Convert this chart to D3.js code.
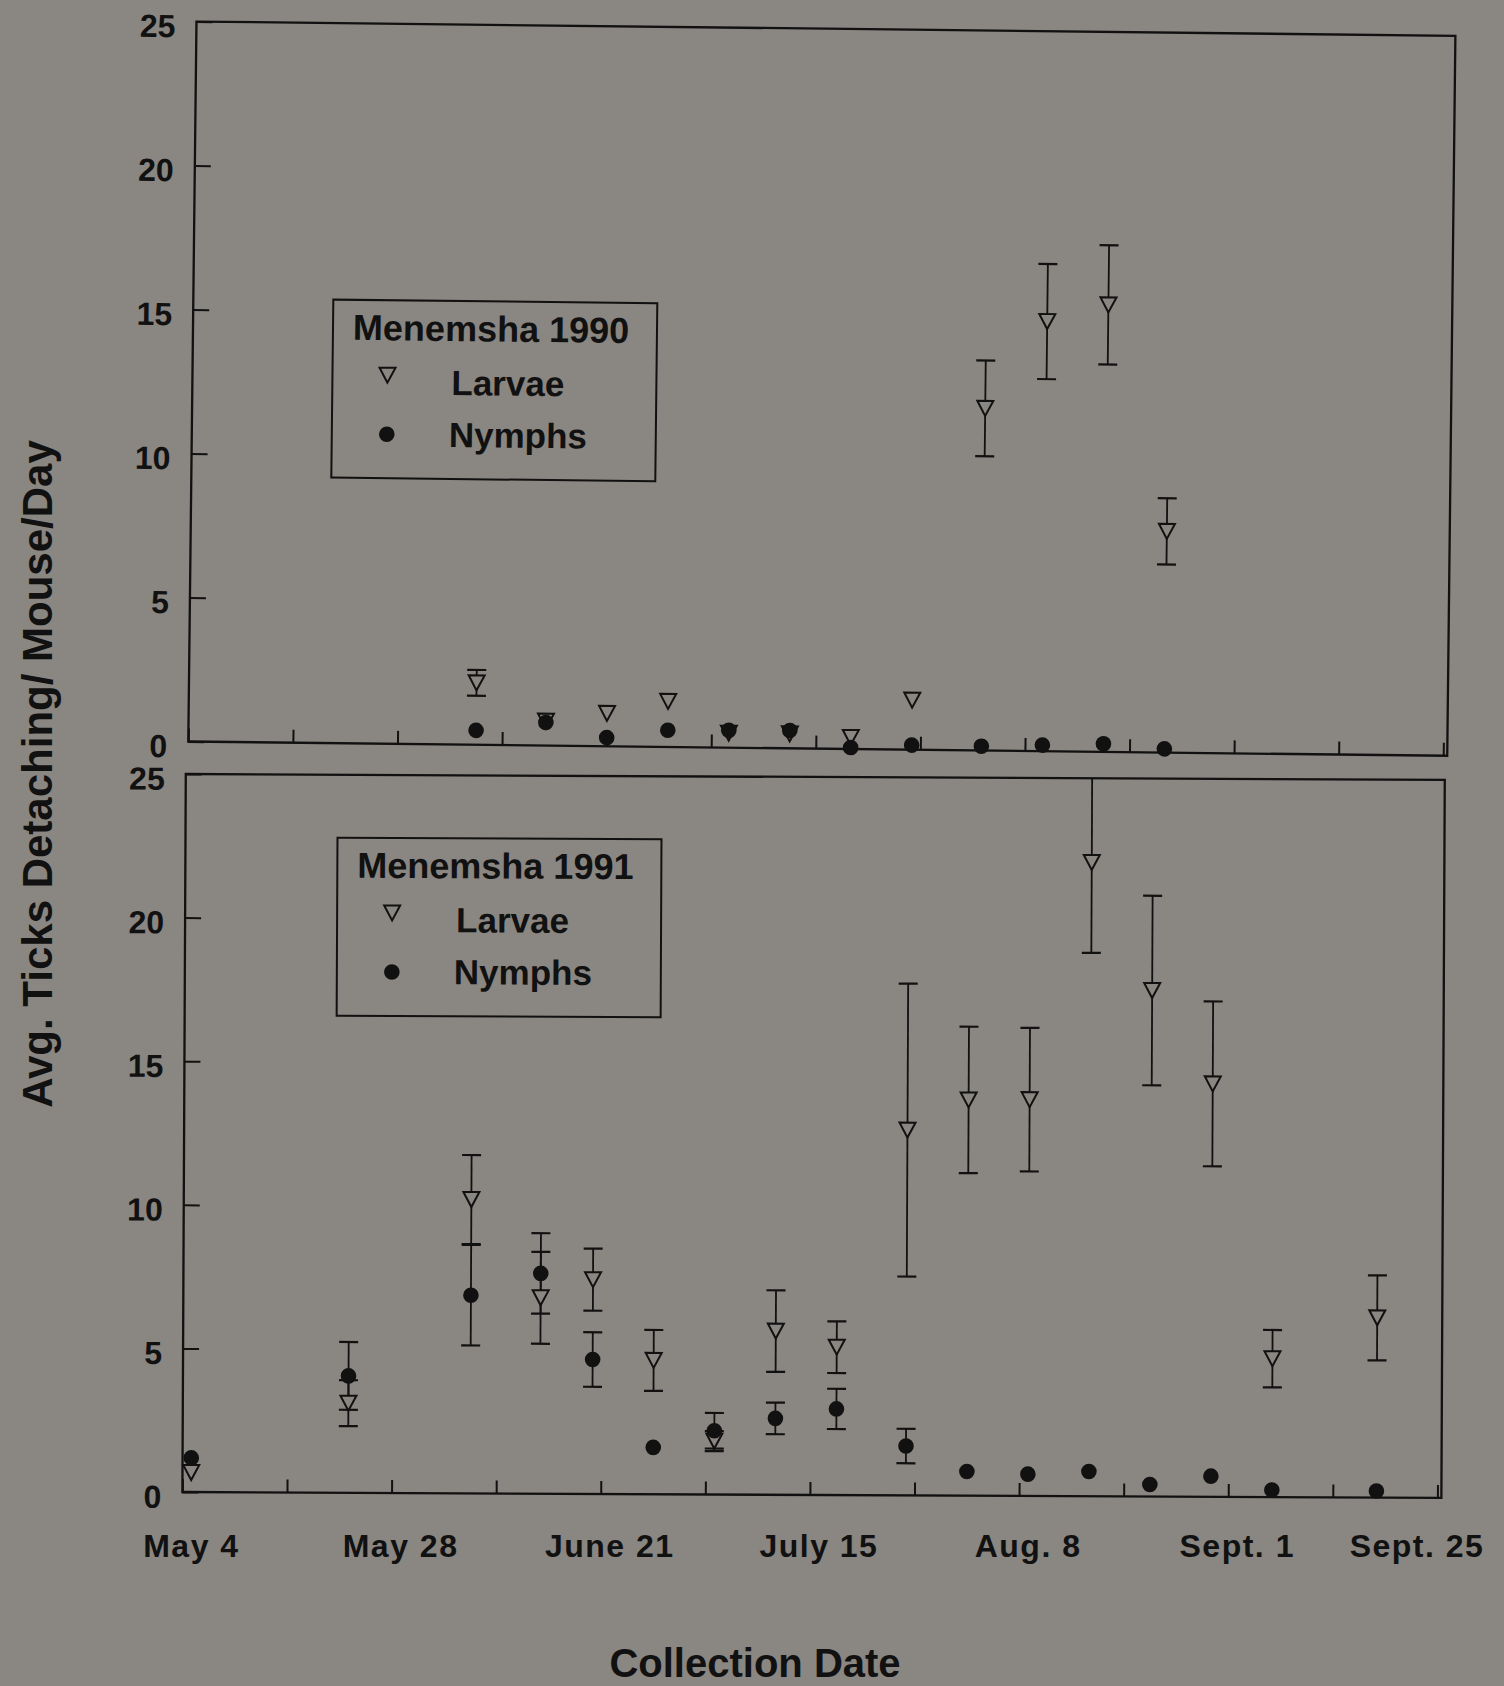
<!DOCTYPE html>
<html>
<head>
<meta charset="utf-8">
<script src="https://cdn.jsdelivr.net/npm/d3@7"></script>
<style>
  html, body { margin: 0; padding: 0; background: #8a8681; }
  svg { display: block; }
  text { font-family: "Liberation Sans", Arial, sans-serif; font-weight: bold; fill: #111; }
</style>
</head>
<body>
<div id="chart"></div>
<script>
// ---- data ----
// Menemsha 1990
const dates1990 = ["1990-06-06", "1990-06-14", "1990-06-21", "1990-06-28", "1990-07-05", "1990-07-12",
  "1990-07-19", "1990-07-26", "1990-08-03", "1990-08-10", "1990-08-17", "1990-08-24"];
const larvae1990 = [2.15, 0.85, 1.14, 1.58, 0.5, 0.5, 0.4, 1.72, 11.88, 14.92, 15.52, 7.68];
const larvaeErr1990 = [0.45, 0, 0, 0, 0, 0, 0, 0, 1.66, 2.0, 2.07, 1.15];
const nymphs1990 = [0.5, 0.8, 0.3, 0.58, 0.6, 0.62, 0.05, 0.16, 0.15, 0.21, 0.28, 0.13];
const nymphsErr1990 = [0, 0, 0, 0, 0, 0, 0, 0, 0, 0, 0, 0];

// Menemsha 1991
const dates1991 = ["1991-05-05", "1991-05-23", "1991-06-06", "1991-06-14", "1991-06-20", "1991-06-27",
  "1991-07-04", "1991-07-11", "1991-07-18", "1991-07-26", "1991-08-02", "1991-08-09", "1991-08-16",
  "1991-08-23", "1991-08-30", "1991-09-06", "1991-09-18"];
const larvae1991 = [0.68, 3.12, 10.23, 6.82, 7.46, 4.66, 1.86, 5.7, 5.15, 12.72, 13.78, 13.8, 22.07,
  17.62, 14.38, 4.82, 6.26];
const larvaeErr1991 = [0, 0.8, 1.55, 1.6, 1.08, 1.06, 0.35, 1.42, 0.9, 5.1, 2.55, 2.5, 3.15, 3.3, 2.87, 1.0, 1.48];
const nymphs1991 = [1.19, 4.07, 6.9, 7.67, 4.68, 1.63, 2.22, 2.66, 3.0, 1.72, 0.84, 0.76, 0.86, 0.42,
  0.72, 0.25, 0.23];
const nymphsErr1991 = [0, 1.18, 1.75, 1.4, 0.95, 0, 0.62, 0.55, 0.7, 0.6, 0, 0, 0, 0, 0, 0, 0];

const yTicks = [0, 5, 10, 15, 20, 25];
const xLabelText = ["May 4", "May 28", "June 21", "July 15", "Aug. 8", "Sept. 1", "Sept. 25"];
const xLabelDates = ["05-04", "05-28", "06-21", "07-15", "08-08", "09-01", "09-25"];

const W = 1504, H = 1686;
const ink = "#111";
const bg = "#8a8681";
const plotW = 1255, frameW = 1259;
const parse = d3.timeParse("%Y-%m-%d");

const svg = d3.select("#chart")
  .append("svg")
  .attr("width", W)
  .attr("height", H);

svg.append("rect").attr("width", W).attr("height", H).attr("fill", bg);

// downward open triangle, centred on the value
const triPath = "M-8,-7.5L8,-7.5L0,7.5Z";

function drawPanel(cfg) {
  const g = svg.append("g")
    .attr("transform", `translate(${cfg.left},${cfg.bottom}) rotate(${cfg.tilt})`);

  const start = new Date(cfg.year, 4, 4), end = new Date(cfg.year, 8, 25);
  const x = d3.scaleTime().domain([start, end]).range([0, plotW]);
  const y = d3.scaleLinear().domain([0, 25]).range([0, -cfg.height]);

  // frame
  g.append("rect")
    .attr("x", 0).attr("y", -cfg.height)
    .attr("width", frameW).attr("height", cfg.height)
    .attr("fill", "none").attr("stroke", ink).attr("stroke-width", 2.3);

  // x ticks every 12 days, pointing inward
  const xTicks = d3.timeDay.range(start, d3.timeDay.offset(end, 1), 12);
  const xa = g.append("g")
    .call(d3.axisTop(x).tickValues(xTicks).tickSize(13).tickFormat(""));
  xa.select(".domain").remove();
  xa.selectAll("line").attr("stroke", ink).attr("stroke-width", 2);

  // y axis, ticks inward, labels outside
  const ya = g.append("g")
    .call(d3.axisLeft(y).tickValues(yTicks).tickSizeInner(-16).tickSizeOuter(0).tickPadding(21));
  ya.select(".domain").remove();
  ya.selectAll("line").attr("stroke", ink).attr("stroke-width", 2);
  ya.selectAll("text")
    .attr("font-family", "'Liberation Sans', Arial, sans-serif")
    .attr("font-weight", "bold")
    .attr("font-size", 32)
    .attr("fill", ink)
    .attr("dy", "0.48em");

  const rows = cfg.dates.map((d, i) => ({
    date: parse(d),
    larvae: cfg.larvae[i], larvaeErr: cfg.larvaeErr[i],
    nymphs: cfg.nymphs[i], nymphsErr: cfg.nymphsErr[i]
  }));

  // error bars
  const bars = [];
  rows.forEach(r => {
    if (r.larvaeErr > 0) bars.push({ date: r.date, v: r.larvae, e: r.larvaeErr });
    if (r.nymphsErr > 0) bars.push({ date: r.date, v: r.nymphs, e: r.nymphsErr });
  });
  const eb = g.append("g").attr("stroke", ink).attr("stroke-width", 1.8);
  bars.forEach(b => {
    const cx = x(b.date);
    const hi = Math.min(25, b.v + b.e), lo = Math.max(0, b.v - b.e);
    eb.append("line").attr("x1", cx).attr("x2", cx).attr("y1", y(lo)).attr("y2", y(hi));
    eb.append("line").attr("x1", cx - 9.5).attr("x2", cx + 9.5).attr("y1", y(lo)).attr("y2", y(lo))
      .attr("stroke-width", 2.2);
    if (b.v + b.e <= 25) {
      eb.append("line").attr("x1", cx - 9.5).attr("x2", cx + 9.5).attr("y1", y(hi)).attr("y2", y(hi))
        .attr("stroke-width", 2.2);
    }
  });

  // larvae (open triangles)
  g.append("g")
    .selectAll("path")
    .data(rows.filter(r => r.larvae != null))
    .join("path")
    .attr("d", triPath)
    .attr("transform", d => `translate(${x(d.date)},${y(d.larvae)})`)
    .attr("fill", bg)
    .attr("stroke", ink)
    .attr("stroke-width", 2);

  // nymphs (filled circles)
  g.append("g")
    .selectAll("circle")
    .data(rows)
    .join("circle")
    .attr("cx", d => x(d.date))
    .attr("cy", d => y(d.nymphs))
    .attr("r", 7.8)
    .attr("fill", ink);

  // legend
  const lg = g.append("g").attr("transform", `translate(${cfg.legend[0]},${cfg.legend[1]})`);
  lg.append("rect").attr("width", 324).attr("height", 178)
    .attr("fill", "none").attr("stroke", ink).attr("stroke-width", 2);
  lg.append("text").attr("x", 20).attr("y", 40).attr("font-size", 36).text(cfg.title);
  lg.append("path").attr("d", triPath).attr("transform", "translate(55,75)")
    .attr("fill", bg).attr("stroke", ink).attr("stroke-width", 2);
  lg.append("text").attr("x", 119).attr("y", 94).attr("font-size", 35).text("Larvae");
  lg.append("circle").attr("cx", 55).attr("cy", 134).attr("r", 7.8).attr("fill", ink);
  lg.append("text").attr("x", 117).attr("y", 146).attr("font-size", 35).text("Nymphs");

  return x;
}

drawPanel({
  year: 1990, left: 188.3, bottom: 741.5, height: 720, tilt: 0.65,
  dates: dates1990, larvae: larvae1990, larvaeErr: larvaeErr1990,
  nymphs: nymphs1990, nymphsErr: nymphsErr1990,
  title: "Menemsha 1990", legend: [140, -443.5]
});

const xBottom = drawPanel({
  year: 1991, left: 182.4, bottom: 1492, height: 718, tilt: 0.27,
  dates: dates1991, larvae: larvae1991, larvaeErr: larvaeErr1991,
  nymphs: nymphs1991, nymphsErr: nymphsErr1991,
  title: "Menemsha 1991", legend: [152, -655]
});

// x tick labels under the lower panel
svg.append("g")
  .selectAll("text")
  .data(xLabelText)
  .join("text")
  .attr("x", (d, i) => 182.4 + xBottom(parse("1991-" + xLabelDates[i])))
  .attr("dx", (d, i) => i === xLabelText.length - 1 ? 47 : 9)
  .attr("y", 1557)
  .attr("text-anchor", (d, i) => i === xLabelText.length - 1 ? "end" : "middle")
  .attr("font-size", 32)
  .attr("letter-spacing", 1.5)
  .text(d => d);

// axis titles
svg.append("text")
  .attr("transform", "translate(52,774) rotate(-90)")
  .attr("text-anchor", "middle")
  .attr("font-size", 42)
  .text("Avg. Ticks Detaching/ Mouse/Day");

svg.append("text")
  .attr("x", 755)
  .attr("y", 1677)
  .attr("text-anchor", "middle")
  .attr("font-size", 40)
  .text("Collection Date");
</script>
</body>
</html>
